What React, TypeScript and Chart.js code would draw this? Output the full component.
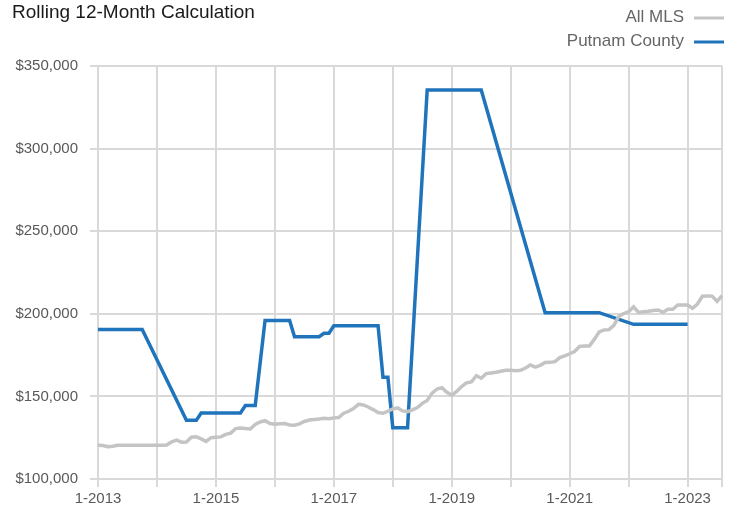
import React, { useEffect, useRef } from "react";
import { Chart, registerables } from "chart.js";

Chart.register(...registerables);

const START_YEAR = 2013;
const MONTH_COUNT = 128;
const categories: string[] = Array.from({ length: MONTH_COUNT }, (_, i) => `${(i % 12) + 1}-${START_YEAR + Math.floor(i / 12)}`);

const allMls: number[] = [
  120500, 120300, 119500, 119800, 120400, 120500, 120500, 120500, 120500, 120500, 120500, 120500,
  120500, 120500, 120600, 122500, 123500, 122300, 122400, 125300, 125500, 124300, 122800, 125000,
  125300, 125500, 127000, 127800, 130500, 130800, 130500, 130300, 133000, 134500, 135300, 133600,
  133200, 133500, 133600, 132700, 132600, 133400, 134800, 135700, 136000, 136300, 136700, 136500,
  137000, 137200, 139800, 141000, 142600, 145200, 144800, 143600, 142000, 140200, 139800, 141000,
  142400, 143000, 141200, 140800, 141800, 143200, 145800, 147500, 152000, 154500, 155300, 152500,
  150800, 153000, 156000, 158200, 158800, 162500, 161000, 163800, 164200, 164600, 165200, 165800,
  165800, 165600, 165800, 167200, 169000, 167700, 168800, 170500, 170600, 171000, 173500, 174500,
  175800, 177200, 180200, 180500, 180500, 184500, 189000, 190200, 190400, 193000, 198500, 200200,
  201300, 204200, 200800, 201200, 201500, 202000, 202300, 200900, 202700, 202700, 205300, 205400,
  205300, 203300, 205900, 210600, 210800, 210700, 207500, 211000,
];

const N = null;
const putnamCounty: (number | null)[] = [
  190500, 190500, 190500, 190500, 190500, 190500, 190500, 190500, 190500, 190500, N, N,
  N, N, N, N, N, N, 135500, 135500, 135500, 140000, 140000, 140000,
  140000, 140000, 140000, 140000, 140000, 140000, 144500, 144500, 144500, N, 196000, 196000,
  196000, 196000, 196000, 196000, 186100, 186100, 186100, 186100, 186100, 186100, 188200, 188200,
  192800, 192800, 192800, 192800, 192800, 192800, 192800, 192800, 192800, 192800, 161600, 161600,
  131000, 131000, 131000, 131000, N, N, N, 335500, 335500, 335500, 335500, 335500,
  335500, 335500, 335500, 335500, 335500, 335500, 335500, N, N, N, N, N,
  N, N, N, N, N, N, N, 200700, 200700, 200700, 200700, 200700,
  200700, 200700, 200700, 200700, 200700, 200700, 200700, N, N, N, N, N,
  N, 193600, 193600, 193600, 193600, 193600, 193600, 193600, 193600, 193600, 193600, 193600,
  193600, N, N, N, N, N, N, N,
];

const yTicks: number[] = [100000, 150000, 200000, 250000, 300000, 350000];

const titleText = "Rolling 12-Month Calculation";
const legendLabels: string[] = ["All MLS", "Putnam County"];
const GRAY = "#c4c4c4";
const BLUE = "#1f74bc";
const GRID = "#d9d9d9";
const FONT = "'Liberation Sans', Arial, sans-serif";

const overlayPlugin = {
  id: "overlay",
  afterDraw(chart: any) {
    const ctx = chart.ctx;
    ctx.save();
    ctx.fillStyle = "#1a1a1a";
    ctx.font = `19px ${FONT}`;
    ctx.textAlign = "left";
    ctx.textBaseline = "alphabetic";
    ctx.fillText(titleText, 12, 18);

    ctx.font = `17px ${FONT}`;
    ctx.textAlign = "right";
    ctx.fillStyle = "#666666";
    const colors = [GRAY, BLUE];
    const ys = [17, 41];
    legendLabels.forEach((lab, i) => {
      ctx.fillStyle = "#666666";
      ctx.textBaseline = "middle";
      ctx.fillText(lab, 684, ys[i]);
      ctx.strokeStyle = colors[i];
      ctx.lineWidth = 3;
      ctx.beginPath();
      ctx.moveTo(694, ys[i] + 1);
      ctx.lineTo(724, ys[i] + 1);
      ctx.stroke();
    });
    ctx.restore();
  },
};

export default function App() {
  const ref = useRef<HTMLCanvasElement | null>(null);
  useEffect(() => {
    document.body.style.margin = "0";
    const canvas = ref.current;
    if (!canvas) return;
    const chart = new Chart(canvas, {
      type: "line",
      data: {
        labels: categories,
        datasets: [
          {
            label: legendLabels[0],
            data: allMls,
            borderColor: GRAY,
            borderWidth: 3.5,
            pointRadius: 0,
            tension: 0,
          },
          {
            label: legendLabels[1],
            data: putnamCounty,
            borderColor: BLUE,
            borderWidth: 3.5,
            pointRadius: 0,
            tension: 0,
            spanGaps: true,
          },
        ],
      },
      options: {
        animation: false,
        responsive: false,
        maintainAspectRatio: false,
        layout: { padding: { top: 66, right: 10, left: 0, bottom: 0 } },
        plugins: {
          legend: { display: false },
          title: { display: false },
          tooltip: { enabled: false },
        },
        scales: {
          x: {
            type: "category",
            afterFit: (scale: any) => {
              scale.height = 33;
            },
            grid: {
              color: (c: any) => (c.index % 12 === 0 || c.index === MONTH_COUNT - 1 ? GRID : "rgba(0,0,0,0)"),
              lineWidth: 2,
              tickLength: 8,
            },
            border: { color: GRID, width: 2 },
            ticks: {
              autoSkip: false,
              maxRotation: 0,
              minRotation: 0,
              padding: 3,
              color: "#595959",
              font: { family: FONT, size: 15 },
              callback: (_v: any, i: number) => (i % 24 === 0 ? categories[i] : ""),
            },
          },
          y: {
            min: yTicks[0],
            max: yTicks[yTicks.length - 1],
            afterFit: (scale: any) => {
              scale.width = 98;
            },
            afterBuildTicks: (scale: any) => {
              scale.ticks = yTicks.map((v) => ({ value: v }));
            },
            grid: { color: GRID, lineWidth: 2, tickLength: 8 },
            border: { color: GRID, width: 2 },
            ticks: {
              padding: 12,
              color: "#595959",
              font: { family: FONT, size: 15 },
              callback: (v: any) => "$" + Number(v).toLocaleString("en-US"),
            },
          },
        },
      },
      plugins: [overlayPlugin],
    });
    return () => chart.destroy();
  }, []);
  return (
    <div style={{ width: 732, height: 512, position: "relative" }}>
      <canvas ref={ref} width={732} height={512} style={{ display: "block" }} />
    </div>
  );
}
